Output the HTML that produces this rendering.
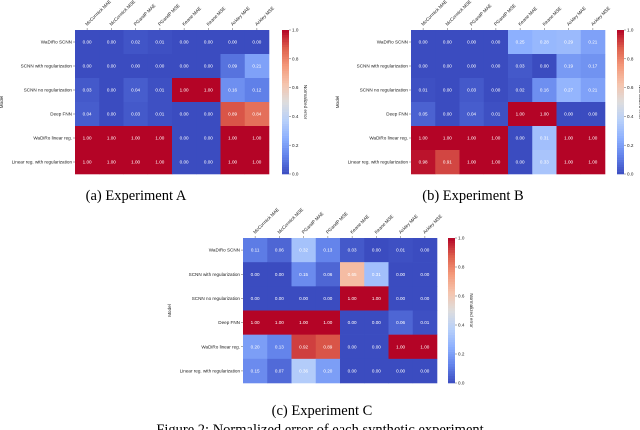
<!DOCTYPE html>
<html><head><meta charset="utf-8">
<style>
html,body{margin:0;padding:0;background:#fff;width:640px;height:430px;overflow:hidden}
svg{display:block}
.cap{font-family:"Liberation Serif",serif;font-size:14.5px;fill:#000}
.lbl{font-family:"Liberation Sans",sans-serif;font-size:4.6px;fill:#222}
.val{font-family:"Liberation Sans",sans-serif;font-size:4.6px;fill:#fff}
</style></head>
<body>
<svg id="fig" width="640" height="430" viewBox="0 0 640 430">
<text class="cap" x="136" y="200" text-anchor="middle">(a) Experiment A</text>
<text class="cap" x="473" y="200" text-anchor="middle">(b) Experiment B</text>
<text class="cap" x="322" y="415" text-anchor="middle">(c) Experiment C</text>
<text class="cap" x="320" y="434" text-anchor="middle">Figure 2: Normalized error of each synthetic experiment</text>
</svg>
<script>
const columns = ["McCormick MAE","McCormick MSE","PGandP MAE","PGandP MSE","Keane MAE","Keane MSE","Ackley MAE","Ackley MSE"];
const rowsA = ["WaDiRo SCNN","SCNN with regularization","SCNN no regularization","Deep FNN","WaDiRo linear reg.","Linear reg. with regularization"];
const rowsC = ["WaDiRo SCNN","SCNN with regularization","SCNN no regularization","Deep FNN","WaDiRo linear reg.","Linear reg. with regularization"];
const valuesA = [
 [0.00,0.00,0.02,0.01,0.00,0.00,0.00,0.00],
 [0.00,0.00,0.00,0.00,0.00,0.00,0.09,0.21],
 [0.03,0.00,0.04,0.01,1.00,1.00,0.16,0.12],
 [0.04,0.00,0.03,0.01,0.00,0.00,0.89,0.84],
 [1.00,1.00,1.00,1.00,0.00,0.00,1.00,1.00],
 [1.00,1.00,1.00,1.00,0.00,0.00,1.00,1.00]];
const valuesB = [
 [0.00,0.00,0.00,0.00,0.25,0.28,0.29,0.21],
 [0.00,0.00,0.00,0.00,0.03,0.00,0.19,0.17],
 [0.01,0.00,0.03,0.00,0.02,0.16,0.27,0.21],
 [0.05,0.00,0.04,0.01,1.00,1.00,0.00,0.00],
 [1.00,1.00,1.00,1.00,0.00,0.31,1.00,1.00],
 [0.98,0.91,1.00,1.00,0.00,0.33,1.00,1.00]];
const valuesC = [
 [0.11,0.06,0.32,0.13,0.03,0.00,0.01,0.00],
 [0.00,0.00,0.15,0.06,0.65,0.31,0.00,0.00],
 [0.00,0.00,0.00,0.00,1.00,1.00,0.00,0.00],
 [1.00,1.00,1.00,1.00,0.00,0.00,0.06,0.01],
 [0.20,0.13,0.92,0.89,0.00,0.00,1.00,1.00],
 [0.15,0.07,0.36,0.20,0.00,0.00,0.00,0.00]];
const cbTicks = [0.0,0.2,0.4,0.6,0.8,1.0];

const cmap=[[59,76,192],[98,130,234],[141,176,254],[184,208,249],[221,221,221],[245,196,173],[244,154,123],[222,96,77],[180,4,38]];
function color(v){v=Math.max(0,Math.min(1,v));const p=v*8,i=Math.min(7,Math.floor(p)),f=p-i;
 const a=cmap[i],b=cmap[i+1];return `rgb(${a.map((c,k)=>Math.round(c+(b[k]-c)*f)).join(',')})`;}
const NS="http://www.w3.org/2000/svg",svg=document.getElementById('fig');
function mk(tag,attrs,parent){const e=document.createElementNS(NS,tag);for(const k in attrs)e.setAttribute(k,attrs[k]);(parent||svg).appendChild(e);return e;}

function heatmap(id,vals,rows,x0,y0,w,h,cbx){
 const g=mk('g',{});
 
 
 const cw=w/columns.length,ch=h/rows.length;
 const xs=j=>x0+j*cw, ys=i=>y0+i*ch;
 vals.forEach((r,i)=>r.forEach((v,j)=>{
  const c=mk('rect',{x:xs(j),y:ys(i),width:cw+0.3,height:ch+0.3,fill:color(v)},g);
  
  
  const t=mk('text',{x:xs(j)+cw/2,y:ys(i)+ch/2+1.6,'text-anchor':'middle',class:'val'},g);
  t.textContent=v.toFixed(2);
  
  
 }));
 columns.forEach((c,j)=>{
  const cx=xs(j)+cw/2;
  mk('line',{x1:cx,y1:y0,x2:cx,y2:y0-2,stroke:'#333','stroke-width':0.4},g);
  const t=mk('text',{x:cx,y:y0-4,class:'lbl',transform:`rotate(-45 ${cx} ${y0-4})`},g);
  t.textContent=c;
  
  
 });
 rows.forEach((r,i)=>{
  const cy=ys(i)+ch/2;
  mk('line',{x1:x0,y1:cy,x2:x0-2,y2:cy,stroke:'#333','stroke-width':0.4},g);
  const t=mk('text',{x:x0-3,y:cy+1.6,'text-anchor':'end',class:'lbl'},g);
  t.textContent=r;
  
  
 });
 const ml=mk('text',{x:x0-72,y:y0+h/2,class:'lbl','text-anchor':'middle',transform:`rotate(-90 ${x0-72} ${y0+h/2})`},g);
 ml.textContent='Model';
 
 
 const cb=mk('g',{},g);
 
 
 const N=60;
 for(let k=0;k<N;k++){mk('rect',{x:cbx,y:y0+h-(k+1)*h/N,width:7,height:h/N+0.3,fill:color((k+0.5)/N)},cb);}
 cbTicks.forEach(v=>{const y=y0+h-v*h;
  mk('line',{x1:cbx+7,y1:y,x2:cbx+9,y2:y,stroke:'#333','stroke-width':0.4},cb);
  const t=mk('text',{x:cbx+10,y:y+1.6,class:'lbl'},cb);t.textContent=v.toFixed(1);
  
  
 });
 const ct=mk('text',{x:cbx+22,y:y0+h/2,class:'lbl','text-anchor':'middle',transform:`rotate(90 ${cbx+22} ${y0+h/2})`},cb);
 ct.textContent='Normalized error';
 
 
}
heatmap('a',valuesA,rowsA,75,30,194,144,282);
heatmap('b',valuesB,rowsA,411,30,194,144,617);
heatmap('c',valuesC,rowsC,243,238,194,145,448);
</script>
</body></html>
